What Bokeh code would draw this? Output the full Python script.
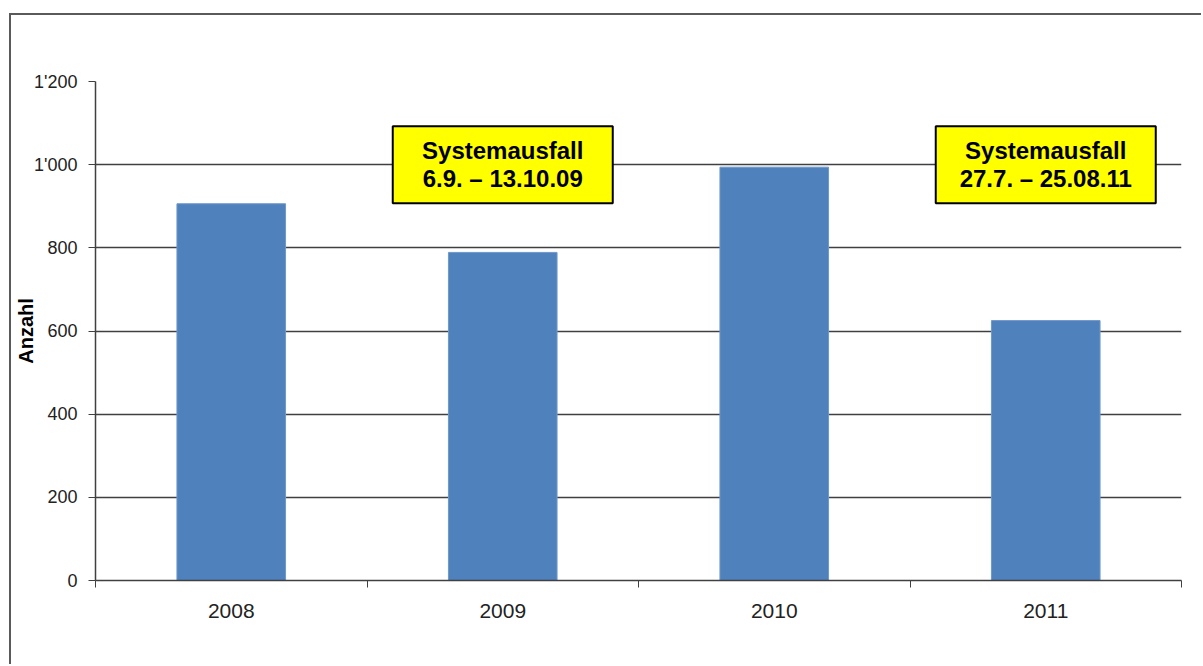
from bokeh.plotting import figure
from bokeh.models import FixedTicker, Range1d, ColumnDataSource
from bokeh.core.properties import value
from bokeh.embed import file_html
from bokeh.resources import INLINE

# ---- data ----
years = ["2008", "2009", "2010", "2011"]
counts = [906, 789, 994, 625]
y_ticks = [0, 200, 400, 600, 800, 1000, 1200]
y_tick_labels = ["0", "200", "400", "600", "800", "1'000", "1'200"]
y_label = "Anzahl"
note_years = ["2009", "2011"]
note_values = [1000, 1000]
note_texts = ["Systemausfall\n6.9. \u2013 13.10.09", "Systemausfall\n27.7. \u2013 25.08.11"]

FONT = "Liberation Sans"
xs = [i + 1 for i in range(len(years))]

p = figure(width=1192, height=651, output_backend="svg", toolbar_location=None,
           x_range=Range1d(0.5, len(years) + 0.5), y_range=Range1d(0, 1200),
           min_border_left=84, min_border_right=22, min_border_top=66, min_border_bottom=86)
p.outline_line_color = None
p.background_fill_color = "white"
p.border_fill_color = "white"
p.margin = (13, 0, 0, 9)
p.styles = {"border-top": "2px solid #5A5A5A", "border-left": "2px solid #5A5A5A"}

p.vbar(x=xs, top=counts, width=0.4, fill_color="#4F81BD", line_color="#6F98C9", line_width=1)

# axes
xa = p.xaxis[0]
xa.ticker = FixedTicker(ticks=xs, minor_ticks=[i + 0.5 for i in range(len(years) + 1)])
xa.major_label_overrides = {x: y for x, y in zip(xs, years)}
xa.major_tick_in = 0
xa.major_tick_out = 0
xa.minor_tick_in = 0
xa.minor_tick_out = 7
xa.minor_tick_line_color = "#404040"
xa.axis_line_color = "#404040"
xa.axis_line_width = 1.5
xa.major_label_text_font = FONT
xa.major_label_text_font_size = "21px"
xa.major_label_text_color = "#222222"
xa.major_label_standoff = 16

ya = p.yaxis[0]
ya.ticker = FixedTicker(ticks=y_ticks, minor_ticks=[])
ya.major_label_overrides = {t: l for t, l in zip(y_ticks, y_tick_labels)}
ya.major_tick_in = 0
ya.major_tick_out = 7
ya.major_tick_line_color = "#404040"
ya.axis_line_color = "#404040"
ya.axis_line_width = 1.5
ya.major_label_text_font = FONT
ya.major_label_text_font_size = "18px"
ya.major_label_text_color = "#222222"
ya.major_label_standoff = 11
ya.axis_label = y_label
ya.axis_label_text_font = FONT
ya.axis_label_text_font_style = "bold"
ya.axis_label_text_font_size = "20px"
ya.axis_label_text_color = "black"
ya.axis_label_standoff = -6

p.xgrid.grid_line_color = None
p.ygrid.ticker = FixedTicker(ticks=y_ticks)
p.ygrid.grid_line_color = "#404040"
p.ygrid.grid_line_width = 1.5

# annotation boxes
note_x = [xs[years.index(y)] for y in note_years]
src = ColumnDataSource(dict(x=note_x, y=note_values, t=note_texts))
p.rect(x="x", y="y", width=220, height=77, width_units="screen", height_units="screen",
       fill_color="#FFFF00", line_color="black", line_width=2, source=src)
p.text(x="x", y="y", text="t", source=src, text_align="center", text_baseline="middle",
       text_font=value(FONT), text_font_style="bold", text_font_size="24px",
       text_color="black", text_line_height=1.05)

open("out.html", "w").write(file_html(p, INLINE))
